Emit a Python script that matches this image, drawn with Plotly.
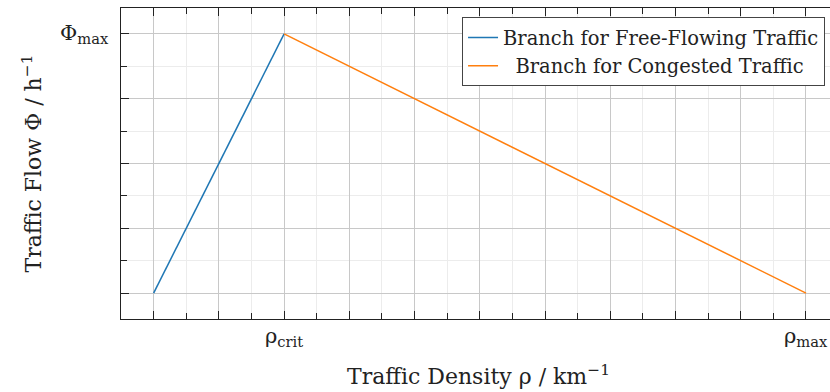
import plotly.graph_objects as go

# Data (normalised units)
free_x = [0.0, 0.2]
free_y = [0.0, 1.0]
cong_x = [0.2, 1.0]
cong_y = [1.0, 0.0]

x_label_vals = [0.2, 1.0]
x_label_text = ["ρ<sub>crit</sub>", "ρ<sub>max</sub>"]
y_label_vals = [1.0]
y_label_text = ["Φ<sub>max</sub>"]

FONT = "DejaVu Serif"

fig = go.Figure()
fig.add_trace(go.Scatter(x=free_x, y=free_y, mode="lines",
                         line=dict(color="#1f77b4", width=1.5),
                         name="Branch for Free-Flowing Traffic"))
fig.add_trace(go.Scatter(x=cong_x, y=cong_y, mode="lines",
                         line=dict(color="#ff7f0e", width=1.5),
                         name="\u00a0\u00a0Branch for Congested Traffic"))

fig.update_layout(
    width=830, height=392,
    margin=dict(l=120.5, r=0, t=7.5, b=72.5),
    paper_bgcolor="white", plot_bgcolor="white",
    font=dict(family=FONT, size=18, color="#222"),
    showlegend=True,
    legend=dict(x=0.993, y=0.97, xanchor="right", yanchor="top",
                bgcolor="white", bordercolor="#444", borderwidth=1,
                font=dict(family=FONT, size=19.5), tracegroupgap=0,
                itemwidth=30),
    xaxis=dict(range=[-0.05, 1.0368], tickmode="linear", tick0=0, dtick=0.1,
               showticklabels=False, ticks="inside", ticklen=8, tickcolor="#222",
               showline=True, linecolor="#222", linewidth=1.2, mirror="ticks",
               showgrid=True, gridcolor="#c8c8c8", gridwidth=1, zeroline=False,
               minor=dict(tickmode="linear", tick0=0.05, dtick=0.1, ticks="inside",
                          ticklen=6, tickcolor="#222", showgrid=True,
                          gridcolor="#ececec", gridwidth=1)),
    yaxis=dict(range=[-0.1, 1.1], tickmode="linear", tick0=0, dtick=0.25,
               showticklabels=False, ticks="inside", ticklen=8, tickcolor="#222",
               showline=True, linecolor="#222", linewidth=1.2, mirror=False,
               showgrid=True, gridcolor="#c8c8c8", gridwidth=1, zeroline=False,
               minor=dict(tickmode="linear", tick0=0.125, dtick=0.25, ticks="inside",
                          ticklen=6, tickcolor="#222", showgrid=True,
                          gridcolor="#ececec", gridwidth=1)),
)

for v, t in zip(x_label_vals, x_label_text):
    fig.add_annotation(text=t, x=v, xref="x", y=0, yref="paper", yshift=-18,
                       yanchor="middle", showarrow=False, font=dict(family=FONT, size=21))
for v, t in zip(y_label_vals, y_label_text):
    fig.add_annotation(text=t, y=v, yref="y", x=0, xref="paper", xshift=-10,
                       xanchor="right", showarrow=False, font=dict(family=FONT, size=21))

fig.add_annotation(text="Traffic Density ρ / km<sup>−1</sup>", xref="paper", yref="paper",
                   x=(478 - 120.5) / (830 - 120.5), y=0, yshift=-56, yanchor="middle",
                   showarrow=False, font=dict(family=FONT, size=22))
fig.add_annotation(text="Traffic Flow Φ / h<sup>−1</sup>", xref="paper", yref="paper",
                   x=0, xshift=-90, y=0.5, textangle=-90, xanchor="center",
                   showarrow=False, font=dict(family=FONT, size=22))

fig.write_html("out.html")
